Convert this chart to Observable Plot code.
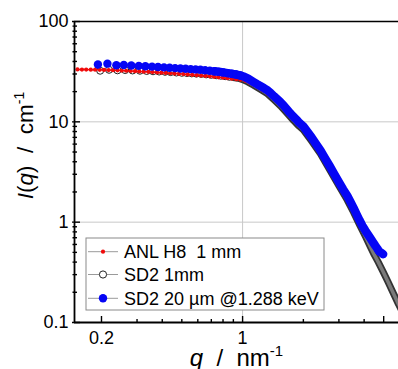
<!DOCTYPE html>
<html>
<head>
<meta charset="utf-8">
<script src="https://cdn.jsdelivr.net/npm/d3@7"></script>
<script src="https://cdn.jsdelivr.net/npm/@observablehq/plot@0.6"></script>
<style>
  html, body { margin: 0; padding: 0; background: white; }
  #chart { width: 398px; height: 369px; overflow: hidden; }
</style>
</head>
<body>
<div id="chart"></div>
<script>
// ---- data ----
const seriesNames = ["ANL H8  1 mm", "SD2 1mm", "SD2 20 \u00b5m @1.288 keV"];

const qRed = [0.152,0.16,0.168,0.177,0.186,0.196,0.206,0.217,0.228,0.24,0.252,0.265,0.279,0.293,0.308,0.324,0.341,0.358,0.377,0.396,0.416,0.438,0.46,0.484,0.509,0.535,0.563,0.592,0.622,0.654,0.688,0.723,0.76,0.8,0.84,0.884,0.93,0.977,1.03,1.08,1.134,1.2,1.26,1.33];
const iRed = [33.3,33.2,33.2,33.1,33.1,33.0,32.9,32.8,32.7,32.6,32.4,32.3,32.1,32.0,31.8,31.6,31.5,31.3,31.1,30.9,30.7,30.5,30.3,30.1,29.9,29.7,29.4,29.2,28.9,28.7,28.4,28.1,27.8,27.5,27.2,26.9,26.6,26.3,25.6,24.6,23.5,22.0,20.7,19.2];

const qSD2 = [0.197,0.218,0.24,0.262,0.285,0.31,0.335,0.36,0.386,0.413,0.44,0.47,0.5,0.53,0.56,0.59,0.625,0.66,0.7,0.74,0.78,0.82,0.86,0.9,0.95,1.0,1.06,1.134,1.23,1.33,1.43,1.54,1.66,1.79,1.9,2.0,2.2,2.43,2.7,3.0,3.3,3.55,3.79,4.06,4.31,4.45,4.7,4.97,5.25,5.59,5.92,6.2];
const iSD2 = [32.3,33.0,32.6,32.8,32.5,32.3,32.1,31.9,31.7,31.5,31.3,31.0,30.8,30.6,30.4,30.2,30.0,29.7,29.4,29.1,28.8,28.5,28.1,27.7,27.2,26.4,25.0,23.2,21.0,19.0,16.6,14.4,12.2,10.3,9.1,8.3,6.4,4.8,3.33,2.3,1.66,1.25,0.95,0.72,0.56,0.49,0.40,0.32,0.255,0.195,0.152,0.127];

const qBlue = [0.192,0.214,0.237,0.258,0.281,0.306,0.33,0.356,0.381,0.408,0.435,0.463,0.492,0.522,0.553,0.585,0.618,0.652,0.688,0.725,0.763,0.802,0.843,0.885,0.93,0.975,1.02,1.07,1.134,1.18,1.23,1.28,1.33,1.38,1.43,1.48,1.54,1.6,1.66,1.72,1.79,1.85,1.9,2.0,2.1,2.2,2.3,2.43,2.55,2.7,2.85,3.0,3.15,3.3,3.42,3.55,3.67,3.79,3.92,4.06,4.18,4.31,4.43,4.55,4.65,4.75,4.86,4.97];
const iBlue = [37.3,38.0,36.6,36.9,36.4,36.1,35.8,35.5,35.2,34.9,34.6,34.3,34.0,33.8,33.5,33.3,33.0,32.7,32.3,31.9,31.5,31.1,30.6,30.1,29.6,29.0,28.1,26.8,24.9,23.7,22.6,21.6,20.6,19.3,18.0,16.9,15.7,14.5,13.3,12.2,11.2,10.5,9.9,9.0,7.9,6.96,6.1,5.2,4.4,3.63,3.0,2.51,2.12,1.83,1.60,1.38,1.20,1.05,0.92,0.82,0.75,0.685,0.63,0.58,0.545,0.51,0.495,0.48];

const xTicksMajor = [0.2, 1, 5];
const xTicksMinor = [0.3,0.4,0.5,0.6,0.7,0.8,0.9,2,3,4];
const yTicksMajor = [0.1, 1, 10, 100];
const yTicksMinor = [0.2,0.3,0.4,0.5,0.6,0.7,0.8,0.9,2,3,4,5,6,7,8,9,20,30,40,50,60,70,80,90];
const xGrid = [1];
const yGrid = [1, 10];
const xDomain = [0.147, 5.92];
const yDomain = [0.1, 100];

// ---- tables ----
const rows = (qs, is) => qs.map((q, k) => ({q, I: is[k]}));
const red = rows(qRed, iRed);
const sd2 = rows(qSD2, iSD2);
const blue = rows(qBlue, iBlue);

const RED = "#f00a0a", BLUE = "#0505f5";
const fmt = d => String(d);
const blank = () => "";

const chart = Plot.plot({
  width: 398, height: 369,
  marginLeft: 74, marginRight: 0, marginTop: 21, marginBottom: 47,
  x: {type: "log", domain: xDomain, label: null},
  y: {type: "log", domain: yDomain, label: null},
  style: {fontFamily: "'Liberation Sans', Arial, sans-serif", fontSize: "18px", color: "black", background: "white", overflow: "hidden"},
  marks: [
    Plot.gridX(xGrid, {stroke: "#c8c8c8", strokeOpacity: 1, strokeWidth: 1}),
    Plot.gridY(yGrid, {stroke: "#c8c8c8", strokeOpacity: 1, strokeWidth: 1}),
    // SD2 1mm (open circles; dense part forms a grey band)
    Plot.line(sd2.filter(d => d.q >= 0.9), {x: "q", y: "I", stroke: "#333", strokeWidth: 7, strokeLinecap: "round", strokeLinejoin: "round", clip: true}),
    Plot.line(sd2.filter(d => d.q >= 0.9), {x: "q", y: "I", stroke: "#7a7a7a", strokeWidth: 3.5, strokeLinecap: "round", strokeLinejoin: "round", clip: true}),
    Plot.dot(sd2.filter(d => d.q < 0.9), {x: "q", y: "I", r: 3.5, fill: "white", stroke: "#222", strokeWidth: 1, clip: true}),
    // ANL H8 1 mm
    Plot.line(red, {x: "q", y: "I", stroke: RED, strokeWidth: 1.5, clip: true}),
    Plot.dot(red, {x: "q", y: "I", r: 2.1, fill: RED, clip: true}),
    // SD2 20 um
    Plot.line(blue.filter(d => d.q >= 0.72), {x: "q", y: "I", stroke: BLUE, strokeWidth: 8.5, strokeLinecap: "round", strokeLinejoin: "round", clip: true}),
    Plot.dot(blue.filter(d => d.q < 1), {x: "q", y: "I", r: 4.2, fill: BLUE, clip: true}),
    // axes
    Plot.ruleY([yDomain[1]], {stroke: "black", strokeWidth: 1.6}),
    Plot.ruleY([yDomain[0]], {stroke: "black", strokeWidth: 1.8}),
    Plot.ruleX([xDomain[0]], {stroke: "black", strokeWidth: 1.8}),
    Plot.axisX(xTicksMajor, {tickSize: 0, tickPadding: 9, tickFormat: fmt, fontSize: 18, label: null}),
    Plot.axisX(xTicksMajor, {anchor: "bottom", tickSize: -6, tickFormat: blank, strokeWidth: 1.4, label: null}),
    Plot.axisX(xTicksMinor, {anchor: "bottom", tickSize: -3, tickFormat: blank, strokeWidth: 1.4, label: null}),
    Plot.axisY(yTicksMajor, {tickSize: 0, tickPadding: 6, tickFormat: fmt, fontSize: 18, label: null}),
    Plot.axisY(yTicksMajor, {anchor: "left", tickSize: -6, tickFormat: blank, strokeWidth: 1.4, label: null}),
    Plot.axisY(yTicksMajor, {anchor: "left", tickSize: 2, tickFormat: blank, strokeWidth: 1.4, label: null}),
    Plot.axisY(yTicksMinor, {anchor: "left", tickSize: -3, tickFormat: blank, strokeWidth: 1.4, label: null}),
    Plot.axisY(yTicksMinor, {anchor: "left", tickSize: 1.5, tickFormat: blank, strokeWidth: 1.4, label: null})
  ]
});
document.getElementById("chart").appendChild(chart);

// ---- axis titles and legend (layout) ----
const svg = d3.select(chart);
const FONT = "'Liberation Sans', Arial, sans-serif";

const yl = svg.append("text")
  .attr("transform", "translate(33,145.5) rotate(-90)")
  .attr("text-anchor", "middle")
  .attr("font-family", FONT).attr("font-size", 22.5)
  .style("white-space", "pre").attr("fill", "black");
yl.append("tspan").attr("font-style", "italic").text("I");
yl.append("tspan").text("(");
yl.append("tspan").attr("font-style", "italic").text("q");
yl.append("tspan").text(")  /  cm");
yl.append("tspan").attr("font-size", 14).attr("dy", -9).text("-1");

const xl = svg.append("text")
  .attr("x", 236.5).attr("y", 366)
  .attr("text-anchor", "middle")
  .attr("font-family", FONT).attr("font-size", 24)
  .style("white-space", "pre").attr("fill", "black");
xl.append("tspan").attr("font-style", "italic").text("q");
xl.append("tspan").text("  /  nm");
xl.append("tspan").attr("font-size", 15).attr("dy", -10).text("-1");

const lg = svg.append("g").attr("font-family", FONT).attr("font-size", 18).attr("text-anchor", "start");
lg.append("rect").attr("x", 86).attr("y", 238).attr("width", 238).attr("height", 72)
  .attr("fill", "white").attr("stroke", "#8a8a8a").attr("stroke-width", 1);
const rowsY = [251.7, 274.5, 298.3];
const markers = [
  {r: 2.1, fill: RED, stroke: "none"},
  {r: 3.6, fill: "white", stroke: "#222"},
  {r: 4.2, fill: BLUE, stroke: "none"}
];
seriesNames.forEach((name, k) => {
  const yy = rowsY[k];
  lg.append("line").attr("x1", 88).attr("x2", 118).attr("y1", yy).attr("y2", yy)
    .attr("stroke", "#9a9a9a").attr("stroke-width", 1);
  lg.append("circle").attr("cx", 103).attr("cy", yy).attr("r", markers[k].r)
    .attr("fill", markers[k].fill).attr("stroke", markers[k].stroke);
  lg.append("text").attr("x", 124).attr("y", yy).attr("dy", "0.36em")
    .attr("text-anchor", "start").attr("fill", "black")
    .style("white-space", "pre").text(name);
});
</script>
</body>
</html>
